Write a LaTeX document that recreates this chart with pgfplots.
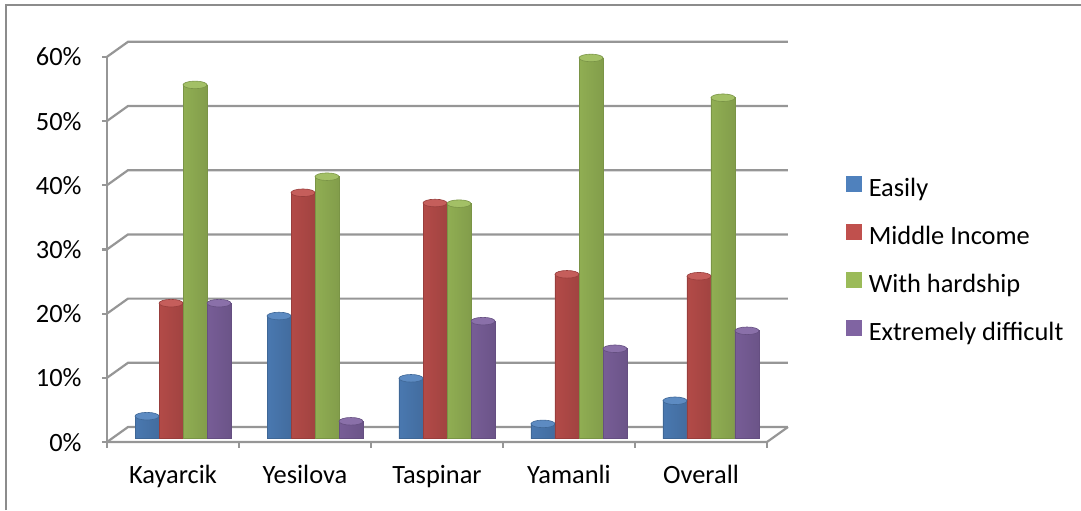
\documentclass[border=0pt]{standalone}
\usepackage{fontspec}
\setmainfont{Carlito}
\usepackage{pgfplots}
\pgfplotsset{compat=1.18}
\usepackage{pgfplotstable}

\definecolor{gridc}{RGB}{150,150,150}
\definecolor{borderc}{RGB}{140,140,140}
\definecolor{blueb}{HTML}{4F81BD}
\definecolor{blued}{HTML}{3F6796}
\definecolor{redb}{HTML}{C0504D}
\definecolor{redd}{HTML}{983E3C}
\definecolor{greenb}{HTML}{9BBB59}
\definecolor{greend}{HTML}{7A9446}
\definecolor{purpb}{HTML}{8064A2}
\definecolor{purpd}{HTML}{654F81}

\pgfdeclareplotmark{cap}{%
  \pgfpathellipse{\pgfpointorigin}{\pgfqpoint{6pt}{0pt}}{\pgfqpoint{0pt}{1.9pt}}%
  \pgfusepathqfillstroke}

\pgfplotstableread{
x  e     m     h     d
0  3.4   21.0  55.0  21.0
1  19.0  38.2  40.7  2.6
2  9.3   36.6  36.5  18.2
3  2.2   25.5  59.2  13.9
4  5.8   25.2  53.0  16.7
}\data

\newcommand{\ff}{\fontsize{13.2}{15}\selectfont}

\pgfplotsset{
  cyl/.style n args={2}{forget plot, ybar, bar width=12pt, bar shift=#1, draw=#2d, line width=0.3pt,
    left color=#2b!93!black, middle color=#2b!82!white, right color=#2b!84!black},
  cap/.style n args={2}{forget plot, only marks, mark=cap,
    mark options={xshift=#1, fill=#2b!92!white, draw=#2d, line width=0.3pt}},
}

\begin{document}
\begin{tikzpicture}
\begin{axis}[
  set layers,
  at={(58.5pt,36pt)}, anchor=south west,
  scale only axis, width=330pt, height=192.6pt,
  xmin=-0.5, xmax=4.5, ymin=0, ymax=60,
  clip=false,
  axis line style={draw=none},
  major tick length=0pt,
  tick style={draw=none},
  xtick={0,1,2,3,4},
  xticklabels={Kayarcik,Yesilova,Taspinar,Yamanli,Overall},
  ytick={0,10,20,30,40,50,60},
  yticklabels={0\%,10\%,20\%,30\%,40\%,50\%,60\%},
  xticklabel style={font=\ff, anchor=base, inner sep=0pt, xshift=-5pt, yshift=-22.5pt},
  yticklabel style={font=\ff, anchor=base east, inner sep=0pt, xshift=-17.5pt, yshift=-6.5pt},
  legend style={at={(1.1045,0.6802)}, anchor=north west, draw=none, fill=none,
    inner sep=0pt, outer sep=0pt, font=\ff, row sep=10.75pt,
    nodes={inner sep=0pt, text height=9pt, text depth=3pt},
    /tikz/every odd column/.append style={column sep=3.5pt}},
  legend cell align=left,
]
\begin{pgfonlayer}{axis background}
\pgfplotsinvokeforeach{0,10,20,30,40,50,60}{
  \draw[gridc, line width=1.1pt]
    ([shift={(-5pt,-2pt)}]axis cs:-0.5,#1) -- ([shift={(5.5pt,5.5pt)}]axis cs:-0.5,#1)
    -- ([shift={(5.5pt,5.5pt)}]axis cs:4.5,#1);
  \draw[gridc, line width=1.1pt]
    ([shift={(-5pt,-2pt)}]axis cs:-0.5,#1) -- ([shift={(-7.5pt,-2pt)}]axis cs:-0.5,#1);
}
\draw[gridc, line width=1.1pt] ([shift={(-5pt,-2pt)}]axis cs:-0.5,0) -- ([shift={(-5pt,-2pt)}]axis cs:-0.5,60);
\draw[gridc, line width=1.1pt] ([shift={(-5pt,-2pt)}]axis cs:-0.5,0) -- ([shift={(-5pt,-2pt)}]axis cs:4.5,0)
   -- ([shift={(5.5pt,5.5pt)}]axis cs:4.5,0);
\pgfplotsinvokeforeach{-0.5,0.5,1.5,2.5,3.5,4.5}{
  \draw[gridc, line width=1.1pt] ([shift={(-5pt,-2pt)}]axis cs:#1,0) -- ([shift={(-5pt,-5pt)}]axis cs:#1,0);
}
\end{pgfonlayer}

\addlegendimage{legend image code/.code={\fill[blueb] (0pt,-0.5pt) rectangle (7.5pt,7pt);}}
\addlegendentry{Easily}
\addlegendimage{legend image code/.code={\fill[redb] (0pt,-0.5pt) rectangle (7.5pt,7pt);}}
\addlegendentry{Middle Income}
\addlegendimage{legend image code/.code={\fill[greenb] (0pt,-0.5pt) rectangle (7.5pt,7pt);}}
\addlegendentry{With hardship}
\addlegendimage{legend image code/.code={\fill[purpb] (0pt,-0.5pt) rectangle (7.5pt,7pt);}}
\addlegendentry{Extremely difficult}

\pgfplotsinvokeforeach{0,1,2,3,4}{
  \addplot[cyl={-18pt}{blue}, x filter/.expression={abs(x-#1)<0.2 ? x : nan}] table[x=x,y=e]{\data};
  \addplot[cyl={-6pt}{red}, x filter/.expression={abs(x-#1)<0.2 ? x : nan}] table[x=x,y=m]{\data};
  \addplot[cyl={6pt}{green}, x filter/.expression={abs(x-#1)<0.2 ? x : nan}] table[x=x,y=h]{\data};
  \addplot[cyl={18pt}{purp}, x filter/.expression={abs(x-#1)<0.2 ? x : nan}] table[x=x,y=d]{\data};
}
\addplot[cap={-18pt}{blue}] table[x=x,y=e]{\data};
\addplot[cap={-6pt}{red}] table[x=x,y=m]{\data};
\addplot[cap={6pt}{green}] table[x=x,y=h]{\data};
\addplot[cap={18pt}{purp}] table[x=x,y=d]{\data};
\end{axis}
\draw[borderc, line width=0.8pt] (3pt,0pt) -- (3pt,252.5pt) -- (540.5pt,252.5pt);
\pgfresetboundingbox
\path[use as bounding box] (0,0) rectangle (540.5pt,255pt);
\end{tikzpicture}
\end{document}
